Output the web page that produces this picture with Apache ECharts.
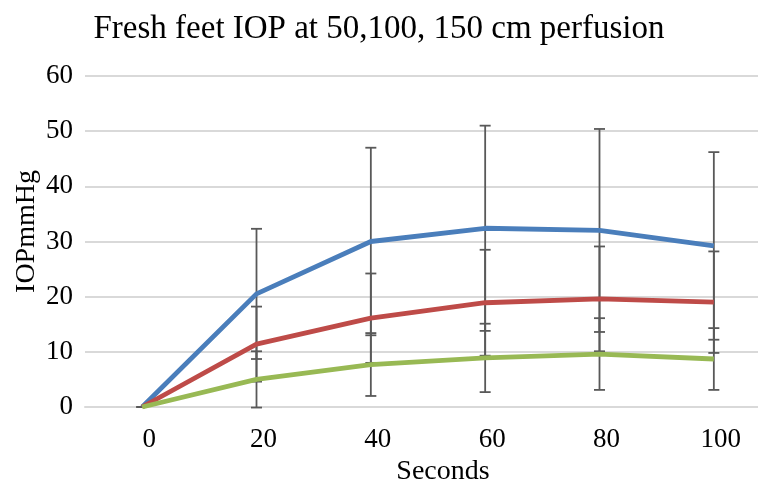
<!DOCTYPE html>
<html>
<head>
<meta charset="utf-8">
<script src="https://cdn.jsdelivr.net/npm/echarts@6/dist/echarts.min.js"></script>
<style>
  html, body { margin: 0; padding: 0; background: #fff; }
  #chart { width: 758px; height: 483px; }
</style>
</head>
<body>
<div id="chart"></div>
<script>
// 数据
const seconds = ['0', '20', '40', '60', '80', '100']
const iop50 = [0, 20.5, 30.0, 32.4, 32.0, 29.2]
const iop100 = [0, 11.4, 16.1, 18.9, 19.6, 19.0]
const iop150 = [0, 5.0, 7.7, 8.9, 9.6, 8.7]
const err50 = [0, 11.8, 17.0, 18.6, 18.4, 17.0]
const err100 = [0, 6.8, 8.1, 9.6, 9.5, 9.2]
const err150 = [0, 5.1, 5.7, 6.2, 6.5, 5.6]
const yTicks = [0, 10, 20, 30, 40, 50, 60]

const font = '"Liberation Serif", "Times New Roman", serif'

// 误差线
function errorSeries(values, errs) {
  return {
    type: 'custom',
    z: 1,
    silent: true,
    data: values.map((v, i) => [i, v - errs[i], v + errs[i]]),
    renderItem: function (params, api) {
      const lo = api.coord([api.value(0), api.value(1)])
      const hi = api.coord([api.value(0), api.value(2)])
      const x = lo[0]
      const cap = 5.5
      const style = { stroke: '#595959', lineWidth: 1.8 }
      return {
        type: 'group',
        children: [
          { type: 'line', shape: { x1: x, y1: hi[1], x2: x, y2: lo[1] }, style: style },
          { type: 'line', shape: { x1: x - cap, y1: hi[1], x2: x + cap, y2: hi[1] }, style: style },
          { type: 'line', shape: { x1: x - cap, y1: lo[1], x2: x + cap, y2: lo[1] }, style: style }
        ]
      }
    }
  }
}

function lineSeries(name, values, color) {
  return {
    name: name,
    type: 'line',
    z: 3,
    data: values,
    symbol: 'none',
    lineStyle: { color: color, width: 4.8 },
    itemStyle: { color: color }
  }
}

let myChart = echarts.init(document.getElementById('chart'))
let option = {
  animation: false,
  title: {
    text: 'Fresh feet IOP at 50,100, 150 cm perfusion',
    left: 'center',
    top: 8,
    textStyle: { fontFamily: font, fontSize: 33, fontWeight: 'normal', color: '#000' }
  },
  grid: { left: 85, right: -13, top: 76, bottom: 76, outerBoundsMode: 'none' },
  xAxis: {
    type: 'category',
    data: seconds,
    name: 'Seconds',
    nameLocation: 'middle',
    nameGap: 49,
    nameTextStyle: { fontFamily: font, fontSize: 28, color: '#000', padding: [0, 0, 0, 30] },
    axisLine: { lineStyle: { color: '#d9d9d9', width: 2 } },
    axisTick: { show: false },
    axisLabel: { fontFamily: font, fontSize: 27, color: '#000', margin: 19, padding: [0, 0, 0, 14] }
  },
  yAxis: {
    type: 'value',
    min: yTicks[0],
    max: yTicks[yTicks.length - 1],
    interval: 10,
    name: 'IOPmmHg',
    nameLocation: 'middle',
    nameGap: 44,
    nameMoveOverlap: false,
    nameTextStyle: { fontFamily: font, fontSize: 28, color: '#000', padding: [0, 0, 0, 20] },
    axisLine: { show: false },
    axisTick: { show: false },
    axisLabel: { fontFamily: font, fontSize: 27, color: '#000', margin: 12 },
    splitLine: { lineStyle: { color: '#d9d9d9', width: 2 } }
  },
  series: [
    errorSeries(iop50, err50),
    errorSeries(iop100, err100),
    errorSeries(iop150, err150),
    lineSeries('50 cm', iop50, '#4a7ebb'),
    lineSeries('100 cm', iop100, '#be4b48'),
    lineSeries('150 cm', iop150, '#98b954')
  ]
}
myChart.setOption(option, true)
</script>
</body>
</html>
